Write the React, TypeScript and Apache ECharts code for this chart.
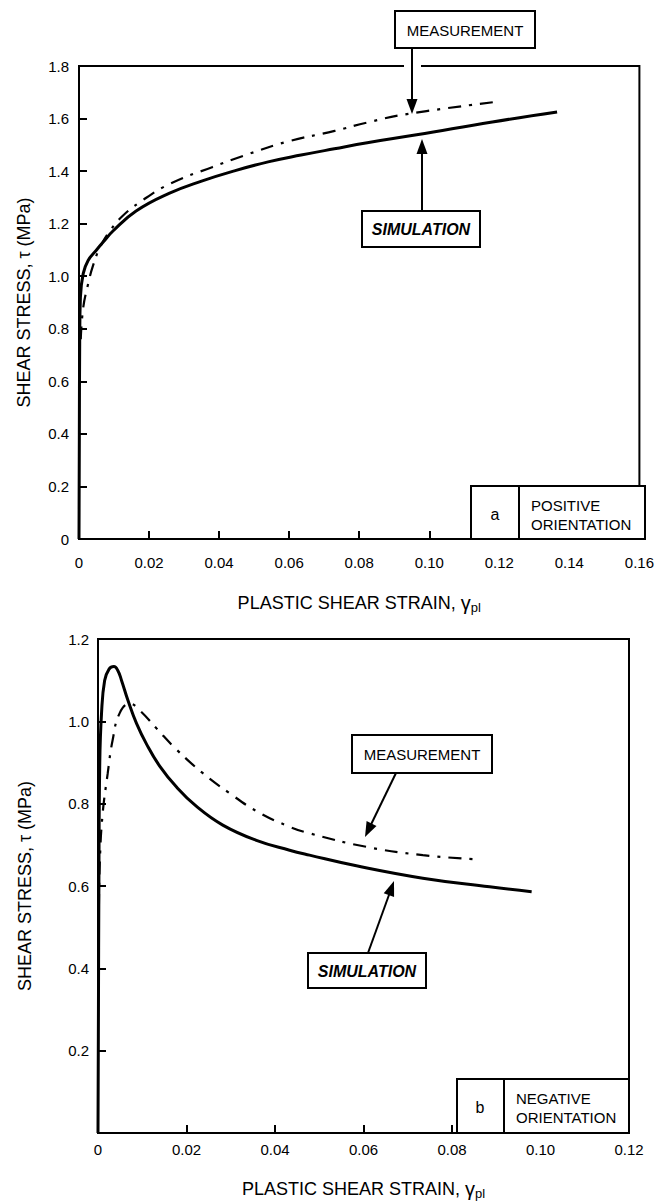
import React, { useEffect, useRef } from "react";
import * as echarts from "echarts";

// Panel a: positive orientation
const strainTicksA = [0, 0.02, 0.04, 0.06, 0.08, 0.1, 0.12, 0.14, 0.16];
const stressTicksA = [0, 0.2, 0.4, 0.6, 0.8, 1.0, 1.2, 1.4, 1.6, 1.8];
const simulationA: [number, number][] = [
  [0, 0], [0.0001, 0.4], [0.0002, 0.75], [0.0004, 0.92], [0.0012, 1.01],
  [0.0026, 1.06], [0.005, 1.1], [0.0069, 1.13], [0.0097, 1.172],
  [0.0163, 1.248], [0.0257, 1.315], [0.035, 1.362], [0.0446, 1.402],
  [0.054, 1.435], [0.0634, 1.461], [0.0729, 1.485], [0.0823, 1.508],
  [0.0964, 1.538], [0.118, 1.587], [0.1365, 1.625],
];
const measurementA: [number, number][] = [
  [0.0005, 0.76], [0.0012, 0.88], [0.0026, 0.97], [0.004, 1.04],
  [0.006, 1.11], [0.0088, 1.172], [0.0125, 1.23], [0.0172, 1.28],
  [0.0257, 1.35], [0.038, 1.415], [0.0484, 1.465], [0.0597, 1.513],
  [0.073, 1.553], [0.0823, 1.585], [0.0936, 1.617], [0.12, 1.665],
];

// Panel b: negative orientation
const strainTicksB = [0, 0.02, 0.04, 0.06, 0.08, 0.1, 0.12];
const stressTicksB = [0, 0.2, 0.4, 0.6, 0.8, 1.0, 1.2];
const simulationB: [number, number][] = [
  [0, 0], [0.0001, 0.3], [0.0002, 0.6], [0.0004, 0.9], [0.0008, 1.02],
  [0.0015, 1.099], [0.0025, 1.127], [0.0036, 1.133], [0.0045, 1.123],
  [0.0053, 1.1], [0.0068, 1.05], [0.0087, 0.995], [0.011, 0.944],
  [0.0139, 0.892], [0.0177, 0.841], [0.0222, 0.794], [0.0282, 0.748],
  [0.0358, 0.711], [0.0433, 0.687], [0.0478, 0.675], [0.0584, 0.649],
  [0.0734, 0.619], [0.0885, 0.598], [0.098, 0.586],
];
const measurementB: [number, number][] = [
  [0.0002, 0.55], [0.0004, 0.655], [0.001, 0.77], [0.0022, 0.874],
  [0.0033, 0.954], [0.0049, 1.02], [0.0072, 1.043], [0.0094, 1.027],
  [0.0132, 0.983], [0.0177, 0.932], [0.0237, 0.874], [0.0298, 0.825],
  [0.0358, 0.782], [0.0426, 0.747], [0.0478, 0.728], [0.0607, 0.695],
  [0.0734, 0.675], [0.0851, 0.665],
];

const FONT = '"Liberation Sans", Arial, Helvetica, sans-serif';

function arrow(x1: number, y1: number, x2: number, y2: number) {
  const len = 15;
  const hw = 5.5;
  const dx = x2 - x1;
  const dy = y2 - y1;
  const d = Math.sqrt(dx * dx + dy * dy);
  const ux = dx / d;
  const uy = dy / d;
  const bx = x2 - ux * len;
  const by = y2 - uy * len;
  return [
    {
      type: "line",
      z: 110,
      shape: { x1, y1, x2: bx + ux * 2, y2: by + uy * 2 },
      style: { stroke: "#000", lineWidth: 2 },
    },
    {
      type: "polygon",
      z: 110,
      shape: {
        points: [
          [x2, y2],
          [bx - uy * hw, by + ux * hw],
          [bx + uy * hw, by - ux * hw],
        ],
      },
      style: { fill: "#000" },
    },
  ];
}

function box(x: number, y: number, w: number, h: number) {
  return {
    type: "rect",
    z: 105,
    shape: { x, y, width: w, height: h },
    style: { fill: "#fff", stroke: "#000", lineWidth: 2 },
  };
}

function label(text: string, x: number, y: number, font: string, align = "center") {
  return {
    type: "text",
    z: 120,
    style: {
      text,
      x,
      y,
      font,
      fill: "#000",
      textAlign: align,
      textVerticalAlign: "middle",
      verticalAlign: "middle",
    },
  };
}

function vline(x: number, y1: number, y2: number) {
  return {
    type: "line",
    z: 106,
    shape: { x1: x, y1, x2: x, y2 },
    style: { stroke: "#000", lineWidth: 2 },
  };
}

const xLabelFmt = (v: number) => (v === 0 ? "0" : v.toFixed(2));

function xAxisFor(gridIndex: number, ticks: number[], margin: number, nameGap: number) {
  return {
    type: "value",
    gridIndex,
    min: ticks[0],
    max: ticks[ticks.length - 1],
    interval: 0.02,
    axisLine: { show: true, onZero: false, lineStyle: { color: "#000", width: 2 } },
    axisTick: { show: true, inside: true, length: 8, lineStyle: { color: "#000", width: 2 } },
    axisLabel: {
      color: "#000",
      fontSize: 15,
      fontFamily: FONT,
      margin,
      formatter: xLabelFmt,
    },
    splitLine: { show: false },
    name: "{a|PLASTIC SHEAR STRAIN, }{g|γ}{s|pl}",
    nameLocation: "middle",
    nameGap,
    nameTextStyle: {
      rich: {
        a: { fontSize: 18, fontFamily: FONT, color: "#000" },
        g: { fontSize: 20, fontFamily: FONT, color: "#000" },
        s: { fontSize: 13, fontFamily: FONT, color: "#000", padding: [10, 0, 0, 0] },
      },
    },
  };
}

function yAxisFor(
  gridIndex: number,
  ticks: number[],
  margin: number,
  nameGap: number,
  hideZero: boolean
) {
  return {
    type: "value",
    gridIndex,
    min: ticks[0],
    max: ticks[ticks.length - 1],
    interval: 0.2,
    axisLine: { show: true, onZero: false, lineStyle: { color: "#000", width: 2 } },
    axisTick: { show: true, inside: true, length: 8, lineStyle: { color: "#000", width: 2 } },
    axisLabel: {
      color: "#000",
      fontSize: 15,
      fontFamily: FONT,
      margin,
      formatter: (v: number) => (v === 0 ? (hideZero ? "" : "0") : v.toFixed(1)),
    },
    splitLine: { show: false },
    name: "SHEAR STRESS, τ (MPa)",
    nameLocation: "middle",
    nameRotate: 90,
    nameGap,
    nameTextStyle: { fontSize: 18, fontFamily: FONT, color: "#000" },
  };
}

function lineSeries(data: [number, number][], idx: number, dashed: boolean) {
  return {
    type: "line",
    xAxisIndex: idx,
    yAxisIndex: idx,
    data,
    smooth: 0.45,
    showSymbol: false,
    symbol: "none",
    lineStyle: dashed
      ? { color: "#000", width: 2.2, type: [13, 8, 3, 8] }
      : { color: "#000", width: 3 },
    z: 3,
  };
}

export default function App() {
  const ref = useRef<HTMLDivElement>(null);
  useEffect(() => {
    if (!ref.current) return;
    const chart = echarts.init(ref.current, undefined, { renderer: "svg" });
    const MF = `15px ${FONT}`;
    const SF = `italic bold 16px ${FONT}`;
    const graphics: any[] = [
      // Panel a annotations
      { type: "rect", z: 104, shape: { x: 404, y: 60, width: 17, height: 10 }, style: { fill: "#fff" } },
      box(395, 11, 140, 37),
      label("MEASUREMENT", 465, 30, MF),
      ...arrow(412, 48, 412, 114),
      box(362, 211, 118, 36),
      label("SIMULATION", 421, 229, SF),
      ...arrow(422, 211, 422, 139),
      box(471, 486, 174, 53),
      vline(519, 486, 539),
      label("a", 495, 514, `16px ${FONT}`),
      label("POSITIVE", 531, 505, MF, "left"),
      label("ORIENTATION", 531, 524, MF, "left"),
      // Panel b annotations
      box(352, 735, 140, 38),
      label("MEASUREMENT", 422, 754, MF),
      ...arrow(396, 773, 365, 837),
      box(308, 953, 118, 35),
      label("SIMULATION", 367, 971, SF),
      ...arrow(368, 953, 394, 881),
      box(457, 1079, 172, 54),
      vline(504, 1079, 1133),
      label("b", 480, 1107, `16px ${FONT}`),
      label("NEGATIVE", 516, 1098, MF, "left"),
      label("ORIENTATION", 516, 1117, MF, "left"),
    ];
    chart.setOption({
      animation: false,
      backgroundColor: "#fff",
      grid: [
        { left: 79, top: 66, width: 566, height: 473, show: true, borderColor: "#000", borderWidth: 2, backgroundColor: "transparent" },
        { left: 98, top: 639, width: 531, height: 494, show: true, borderColor: "#000", borderWidth: 2, backgroundColor: "transparent" },
      ],
      xAxis: [xAxisFor(0, strainTicksA, 16, 52), xAxisFor(1, strainTicksB, 9, 44)],
      yAxis: [
        yAxisFor(0, stressTicksA, 10, 46, false),
        yAxisFor(1, stressTicksB, 9, 64, true),
      ],
      series: [
        lineSeries(simulationA, 0, false),
        lineSeries(measurementA, 0, true),
        lineSeries(simulationB, 1, false),
        lineSeries(measurementB, 1, true),
      ],
      graphic: graphics,
    });
    return () => chart.dispose();
  }, []);
  return (
    <div
      ref={ref}
      style={{ position: "absolute", left: 0, top: 0, width: 657, height: 1201, background: "#fff" }}
    />
  );
}
